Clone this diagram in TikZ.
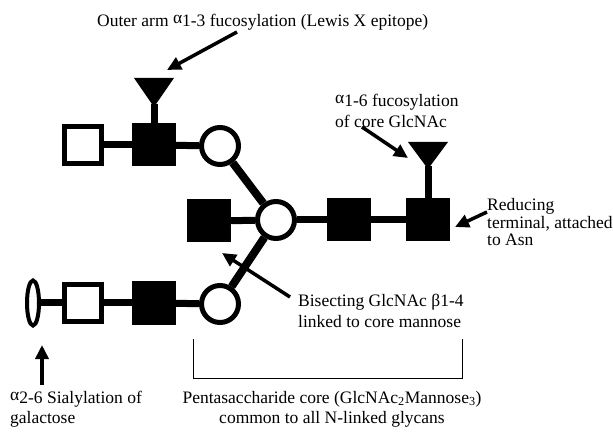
\documentclass[tikz,border=0pt]{standalone}
\usepackage{fontspec}
\setmainfont{Liberation Serif}
\usetikzlibrary{arrows.meta,shapes.geometric}
\begin{document}
\begin{tikzpicture}[x=1pt,y=-1pt,
  link/.style={line width=7pt},
  diag/.style={line width=8pt},
  opensq/.style={draw,fill=white,line width=5pt,minimum size=37pt,inner sep=0pt},
  fillsq/.style={fill=black,minimum width=44pt,minimum height=43pt,inner sep=0pt},
  mancirc/.style={circle,draw,fill=white,line width=5pt,minimum size=37pt,inner sep=0pt},
  sia/.style={ellipse,draw,fill=white,line width=4pt,minimum width=12pt,minimum height=45pt,inner sep=0pt},
  fucose/.style={fill=black},
  callout/.style={line width=3.5pt,-{Triangle[length=14pt,width=13pt]}},
  bracket/.style={line width=1pt},
  lbl/.style={anchor=base west,inner sep=0pt,font=\fontsize{17.5}{20}\selectfont},
  lblc/.style={anchor=base,inner sep=0pt,font=\fontsize{17.5}{20}\selectfont}
]
\useasboundingbox (0,0) rectangle (613,438);
\newcommand{\alphup}{\raisebox{3pt}{α}}
% residues
\node[opensq] (g1) at (83,145) {};
\node[fillsq] (n1) at (154,145) {};
\node[mancirc] (m1) at (220,146) {};
\node[fillsq] (bis) at (209,221) {};
\node[mancirc] (mc) at (276,220) {};
\node[fillsq] (core1) at (349,220) {};
\node[fillsq] (core2) at (428,220) {};
\node[sia] (s) at (33,303) {};
\node[opensq] (g2) at (83,303) {};
\node[fillsq] (n2) at (154,303) {};
\node[mancirc] (m2) at (220,304) {};
% fucoses
\fill[fucose] (134,78) -- (174,78) -- (154,107) -- cycle;
\coordinate (f1) at (154,104);
\fill[fucose] (408,142) -- (448,142) -- (428,169) -- cycle;
\coordinate (f2) at (428,166);
% links
\draw[link] (g1) -- (n1);
\draw[link] (n1) -- (m1);
\draw[diag] (m1) -- (mc);
\draw[link] (bis) -- (mc);
\draw[link] (mc) -- (core1);
\draw[link] (core1) -- (core2);
\draw[link] (s) -- (g2);
\draw[link] (g2) -- (n2);
\draw[link] (n2) -- (m2);
\draw[diag] (m2) -- (mc);
\draw[link] (f1) -- (n1.north);
\draw[link] (f2) -- (core2.north);
% labels
\node[lbl] (t1) at (97,27) {Outer arm \alphup1-3 fucosylation (Lewis X epitope)};
\node[lbl] (t2a) at (335,107) {\alphup1-6 fucosylation};
\node[lbl] (t2b) at (335,128) {of core GlcNAc};
\node[lbl] (t3a) at (487,211) {Reducing};
\node[lbl] (t3b) at (487,229) {terminal, attached};
\node[lbl] (t3c) at (487,246) {to Asn};
\node[lbl] (t4a) at (298,307) {Bisecting GlcNAc β1-4};
\node[lbl] (t4b) at (298,327) {linked to core mannose};
\node[lbl] (t5a) at (10,403) {\alphup2-6 Sialylation of};
\node[lbl] (t5b) at (10,423) {galactose};
\node[lblc] (t6a) at (332,403) {Pentasaccharide core (GlcNAc\textsubscript{2}Mannose\textsubscript{3})};
\node[lblc] (t6b) at (332,423) {common to all N-linked glycans};
% callout arrows
\coordinate (a1t) at (237,32); \coordinate (a1h) at (167,70);
\coordinate (a2t) at (362,127); \coordinate (a2h) at (408,158);
\coordinate (a3t) at (487,212); \coordinate (a3h) at (455,227);
\coordinate (a4t) at (290,297); \coordinate (a4h) at (222,253);
\coordinate (a5t) at (42,385); \coordinate (a5h) at (42,345);
\draw[callout] (a1t) -- (a1h);
\draw[callout] (a2t) -- (a2h);
\draw[callout] (a3t) -- (a3h);
\draw[callout] (a4t) -- (a4h);
\draw[callout] (a5t) -- (a5h);
% core bracket
\coordinate (b1) at (193,339);
\coordinate (b2) at (462,339);
\draw[bracket] (b1) |- (b2 |- 0,378) -- (b2);
\end{tikzpicture}
\end{document}
